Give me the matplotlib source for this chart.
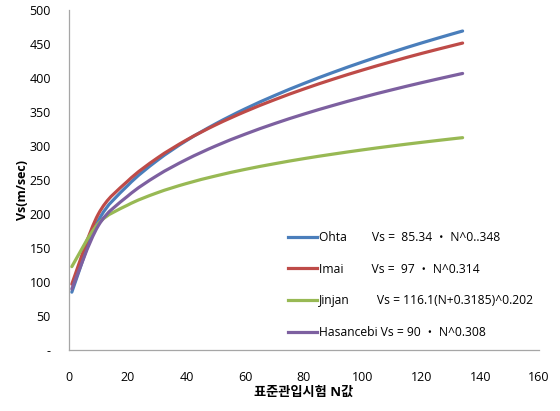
import matplotlib
matplotlib.use("Agg")
import matplotlib.pyplot as plt
from matplotlib.path import Path
from matplotlib.patches import PathPatch
from matplotlib.lines import Line2D
import numpy as np

plt.rcParams['font.family'] = ['Open Sans', 'Noto Sans CJK KR', 'DejaVu Sans']

N = [1, 10, 20, 30, 40, 50, 60, 70, 80, 90, 100, 110, 120, 130, 134]
ohta = [85.3, 190.2, 242.0, 278.7, 308.1, 332.9, 354.8, 374.3, 392.1, 408.5, 423.8, 438.1, 451.6, 464.3, 469.2]
imai = [97.0, 199.9, 248.5, 282.2, 308.9, 331.3, 350.8, 368.2, 384.0, 398.5, 411.9, 424.4, 436.2, 447.2, 451.5]
jinjan = [122.8, 186.0, 213.3, 231.3, 245.0, 256.2, 265.8, 274.1, 281.6, 288.3, 294.5, 300.2, 305.5, 310.5, 312.4]
hasancebi = [90.0, 182.9, 226.4, 256.6, 280.3, 300.3, 317.6, 333.1, 347.1, 359.9, 371.8, 382.8, 393.2, 403.0, 406.8]

labels = ["Ohta        Vs =  85.34 \u30fb N^0..348",
          "Imai         Vs =  97 \u30fb N^0.314",
          "Jinjan         Vs = 116.1(N+0.3185)^0.202",
          "Hasancebi Vs = 90 \u30fb N^0.308"]
colors = ["#4A7EBB", "#BE4B48", "#98B954", "#7D60A0"]
series = [ohta, imai, jinjan, hasancebi]

xticks = [0, 20, 40, 60, 80, 100, 120, 140, 160]
yticks = [0, 50, 100, 150, 200, 250, 300, 350, 400, 450, 500]
ytick_labels = ["-", "50", "100", "150", "200", "250", "300", "350", "400", "450", "500"]


def smooth_path(x, y):
    p = np.column_stack([x, y]).astype(float)
    n = len(p)
    verts = [p[0]]
    codes = [Path.MOVETO]
    for i in range(n - 1):
        p0 = p[i - 1] if i > 0 else p[i]
        p1 = p[i]
        p2 = p[i + 1]
        p3 = p[i + 2] if i + 2 < n else p[i + 1]
        c1 = p1 + (p2 - p0) / 6.0
        c2 = p2 - (p3 - p1) / 6.0
        verts += [c1, c2, p2]
        codes += [Path.CURVE4] * 3
    return Path(verts, codes)


fig = plt.figure(figsize=(5.6, 4.11), dpi=100)
ax = fig.add_axes([0.123, 0.148, 0.8395, 0.8275])

handles = []
for ys, c, lab in zip(series, colors, labels):
    patch = PathPatch(smooth_path(N, ys), facecolor='none', edgecolor=c, lw=2.3,
                      capstyle='round', joinstyle='round')
    ax.add_patch(patch)
    handles.append(Line2D([], [], color=c, lw=2.3))

ax.set_xlim(0, 160)
ax.set_ylim(0, 500)
ax.set_xticks(xticks)
ax.set_yticks(yticks)
ax.set_yticklabels(ytick_labels)
ax.tick_params(length=0, labelsize=9)
ax.tick_params(axis='y', pad=13)
ax.tick_params(axis='x', pad=15)
for s in ['top', 'right']:
    ax.spines[s].set_visible(False)
for s in ['left', 'bottom']:
    ax.spines[s].set_color('#A6A6A6')
    ax.spines[s].set_linewidth(0.9)

ax.set_ylabel("Vs(m/sec)", fontsize=9, fontweight='bold', labelpad=4)
ax.yaxis.set_label_coords(-0.085, 0.47)
ax.set_xlabel("표준관입시험 N값", fontsize=9.5, fontweight='bold', labelpad=1)

leg = ax.legend(handles, labels, loc='upper left', bbox_to_anchor=(0.455, 0.365),
                frameon=False, fontsize=8.7, handlelength=2.4, handletextpad=0.2,
                labelspacing=1.55, borderaxespad=0)

fig.savefig("out.png", dpi=100)
